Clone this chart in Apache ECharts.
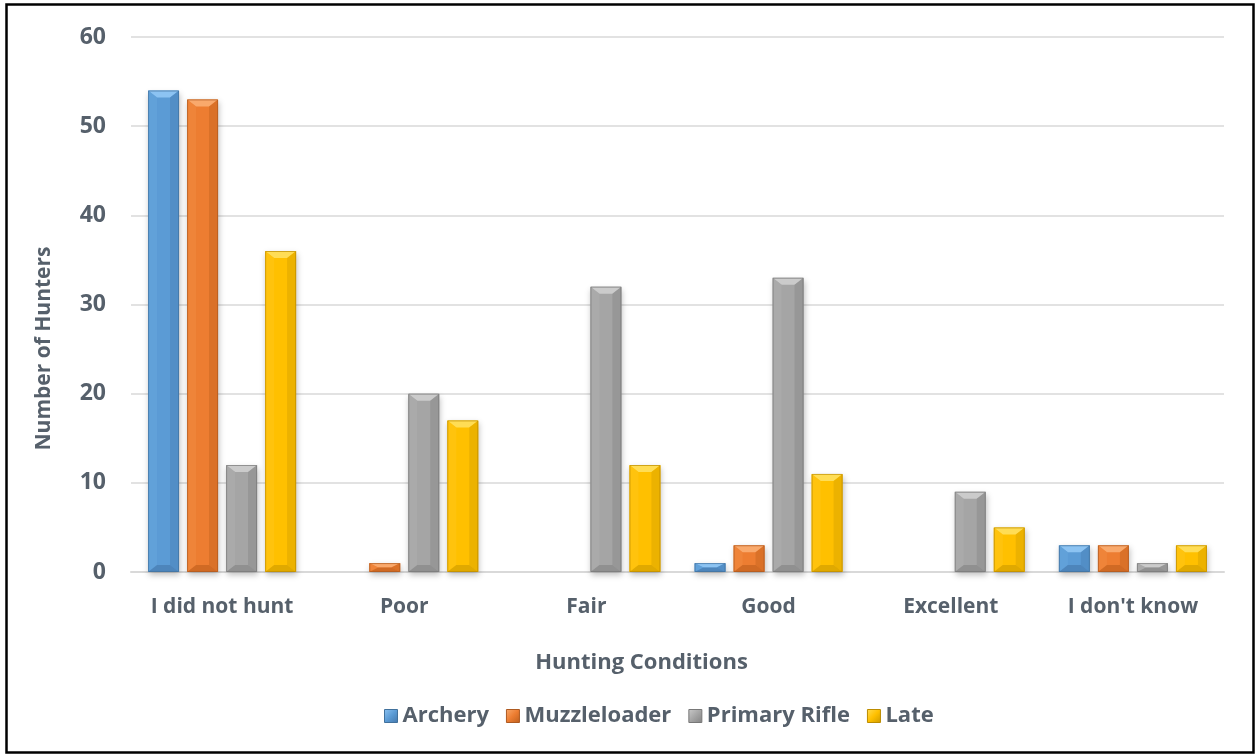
<!DOCTYPE html>
<html>
<head>
<meta charset="utf-8">
<script src="https://cdn.jsdelivr.net/npm/echarts@6/dist/echarts.min.js"></script>
<style>
  html, body { margin: 0; padding: 0; background: #ffffff; }
  #chart { width: 1256px; height: 755px; }
</style>
</head>
<body>
<div id="chart"></div>
<script>
// Hunter survey: reported hunting conditions by season
const categories = ['I did not hunt', 'Poor', 'Fair', 'Good', 'Excellent', "I don't know"];
const seasons = ['Archery', 'Muzzleloader', 'Primary Rifle', 'Late'];
const archery = [54, 0, 0, 1, 0, 3];
const muzzleloader = [53, 1, 0, 3, 0, 3];
const primaryRifle = [12, 20, 32, 33, 9, 1];
const late = [36, 17, 12, 11, 5, 3];
const yTicks = [0, 10, 20, 30, 40, 50, 60];

const seriesValues = [archery, muzzleloader, primaryRifle, late];
const palette = [
  { base: '#5B9BD5', top: '#8CC3F2', left: '#66A5DC', right: '#4A82B8', bottom: '#4477AA', edge: '#41719C' },
  { base: '#ED7D31', top: '#F9A96C', left: '#F08840', right: '#C8651F', bottom: '#BC5E1D', edge: '#AE5A21' },
  { base: '#A5A5A5', top: '#CBCBCB', left: '#AEAEAE', right: '#898989', bottom: '#828282', edge: '#787878' },
  { base: '#FFC000', top: '#FFDD55', left: '#FFC515', right: '#D9A300', bottom: '#CC9A00', edge: '#BC8C00' }
];

const textColor = '#56606B';
const fontFamily = '"Open Sans", "Noto Sans", sans-serif';

// Bar geometry relative to the category band
const barFrac = 0.17;
const gapFrac = 0.26;

function makeRender(idx) {
  const c = palette[idx];
  return function (params, api) {
    const v = api.value(1);
    if (!v) return null;
    const base = api.coord([api.value(0), 0]);
    const topPt = api.coord([api.value(0), v]);
    const band = api.size([1, 0])[0];
    const w = band * barFrac;
    const g = w * gapFrac;
    const groupW = 4 * w + 3 * g;
    const x0 = base[0] - groupW / 2 + idx * (w + g);
    const x1 = x0 + w;
    const y0 = topPt[1];
    const y1 = base[1];
    const h = y1 - y0;
    const bx = Math.min(9, w / 2 - 1);
    const by = Math.min(7, h / 2);
    const xi0 = x0 + bx, xi1 = x1 - bx, yi0 = y0 + by, yi1 = y1 - by;
    return {
      type: 'group',
      children: [
        { type: 'rect', shape: { x: x0, y: y0, width: w, height: h },
          style: { fill: c.base, shadowBlur: 6, shadowOffsetY: 3, shadowOffsetX: 1, shadowColor: 'rgba(0,0,0,0.25)' } },
        { type: 'polygon', shape: { points: [[x0, y0], [x1, y0], [xi1, yi0], [xi0, yi0]] }, style: { fill: c.top } },
        { type: 'polygon', shape: { points: [[x0, y0], [xi0, yi0], [xi0, yi1], [x0, y1]] }, style: { fill: c.left, opacity: 0.6 } },
        { type: 'polygon', shape: { points: [[x1, y0], [x1, y1], [xi1, yi1], [xi1, yi0]] }, style: { fill: c.right, opacity: 0.5 } },
        { type: 'polygon', shape: { points: [[x0, y1], [xi0, yi1], [xi1, yi1], [x1, y1]] }, style: { fill: c.bottom, opacity: 0.6 } },
        { type: 'rect', shape: { x: x0 + 0.5, y: y0 + 0.5, width: w - 1, height: h - 1 },
          style: { fill: 'none', stroke: c.edge, lineWidth: 1, opacity: 0.7 } }
      ]
    };
  };
}

const chart = echarts.init(document.getElementById('chart'), null, { renderer: 'canvas' });

chart.setOption({
  backgroundColor: '#ffffff',
  animation: false,
  graphic: [{
    type: 'rect', left: 4, top: 2, shape: { width: 1247, height: 748 },
    style: { fill: 'none', stroke: '#000000', lineWidth: 2.5 }, silent: true
  }],
  grid: { left: 131, right: 32, top: 37, bottom: 183, containLabel: false },
  legend: {
    data: seasons.map(function (s, i) {
      return {
        name: s,
        itemStyle: {
          color: { type: 'linear', x: 0, y: 0, x2: 1, y2: 1,
            colorStops: [{ offset: 0, color: palette[i].top }, { offset: 0.5, color: palette[i].base }, { offset: 1, color: palette[i].bottom }] },
          borderColor: palette[i].edge, borderWidth: 1
        }
      };
    }),
    top: 700,
    left: 379,
    itemWidth: 13,
    itemHeight: 13,
    itemGap: 17,
    icon: 'rect',
    textStyle: { color: textColor, fontSize: 22, fontWeight: 'bold', fontFamily: fontFamily }
  },
  xAxis: {
    type: 'category',
    data: categories,
    name: 'Hunting Conditions',
    nameLocation: 'middle',
    nameGap: 80,
    nameTextStyle: { color: textColor, fontSize: 22, fontWeight: 'bold', fontFamily: fontFamily, padding: [0, 72, 0, 0] },
    axisLine: { show: true, lineStyle: { color: '#d9d9d9', width: 2 } },
    axisTick: { show: false },
    axisLabel: { color: textColor, fontSize: 21, fontWeight: 'bold', fontFamily: fontFamily, margin: 25, interval: 0 }
  },
  yAxis: {
    type: 'value',
    min: yTicks[0],
    max: yTicks[yTicks.length - 1],
    interval: 10,
    name: 'Number of Hunters',
    nameLocation: 'middle',
    nameGap: 76,
    nameTextStyle: { color: textColor, fontSize: 21, fontWeight: 'bold', fontFamily: fontFamily, padding: [0, 88, 0, 0] },
    axisLine: { show: false },
    axisTick: { show: false },
    axisLabel: { color: textColor, fontSize: 23, fontWeight: 'bold', fontFamily: fontFamily, margin: 25 },
    splitLine: { lineStyle: { color: '#d9d9d9', width: 1.5 } }
  },
  series: seasons.map(function (name, i) {
    return {
      name: name,
      type: 'custom',
      renderItem: makeRender(i),
      itemStyle: { color: palette[i].base },
      encode: { x: 0, y: 1 },
      data: seriesValues[i].map(function (v, k) { return [k, v]; }),
      z: 3
    };
  })
});
</script>
</body>
</html>
